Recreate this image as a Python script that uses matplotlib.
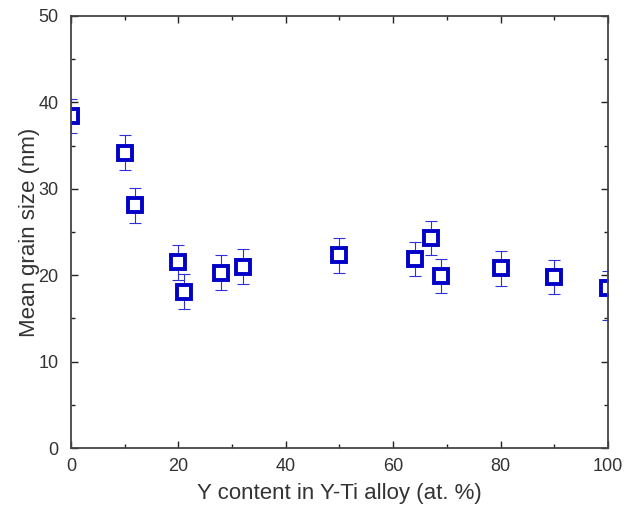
import numpy as np
import matplotlib
matplotlib.use('Agg')
import matplotlib.pyplot as plt
from matplotlib.ticker import MultipleLocator

plt.rcParams['font.family'] = ['Liberation Sans', 'DejaVu Sans']

# Y content (at. %) and mean grain size (nm)
y_content = [0, 10, 12, 20, 21, 28, 32, 50, 64, 67, 69, 80, 90, 100]
grain_size = [38.4, 34.2, 28.1, 21.5, 18.1, 20.3, 21.0, 22.3, 21.9, 24.3, 19.9, 20.8, 19.8, 18.5]
err_low = [2.0, 2.0, 2.0, 2.0, 2.0, 2.0, 2.0, 2.0, 2.0, 2.0, 2.0, 2.0, 2.0, 3.7]
err_high = [2.0, 2.0, 2.0, 2.0, 2.0, 2.0, 2.0, 2.0, 2.0, 2.0, 2.0, 2.0, 2.0, 2.0]

blue = '#0000c8'
bar_blue = '#3030d8'
text_gray = '#333333'

fig = plt.figure(figsize=(6.25, 5.15), dpi=100)
ax = fig.add_axes([0.1136, 0.130, 0.859, 0.839])

ax.errorbar(y_content, grain_size, yerr=[err_low, err_high], fmt='none',
            ecolor=bar_blue, elinewidth=0.8, capsize=4, capthick=0.8)
ax.plot(y_content, grain_size, 's', mfc='white', mec=blue, ms=10, mew=2.8)

ax.set_xlim(0, 100)
ax.set_ylim(0, 50)
ax.xaxis.set_major_locator(MultipleLocator(20))
ax.xaxis.set_minor_locator(MultipleLocator(10))
ax.yaxis.set_major_locator(MultipleLocator(10))
ax.yaxis.set_minor_locator(MultipleLocator(5))
ax.tick_params(which='both', direction='in', top=True, right=True,
               labelsize=13, labelcolor=text_gray, color='#222222')
ax.tick_params(which='major', length=5, width=1)
ax.tick_params(which='minor', length=3, width=1)
ax.tick_params(axis='x', which='major', pad=7)
ax.tick_params(axis='y', which='major', pad=9)
for s in ax.spines.values():
    s.set_linewidth(1.3)
    s.set_color('#444444')

ax.set_xlabel('Y content in Y-Ti alloy (at. %)', fontsize=16, color=text_gray, labelpad=6)
ax.set_ylabel('Mean grain size (nm)', fontsize=16, color=text_gray, labelpad=-1)

fig.savefig('out.png', dpi=100)
